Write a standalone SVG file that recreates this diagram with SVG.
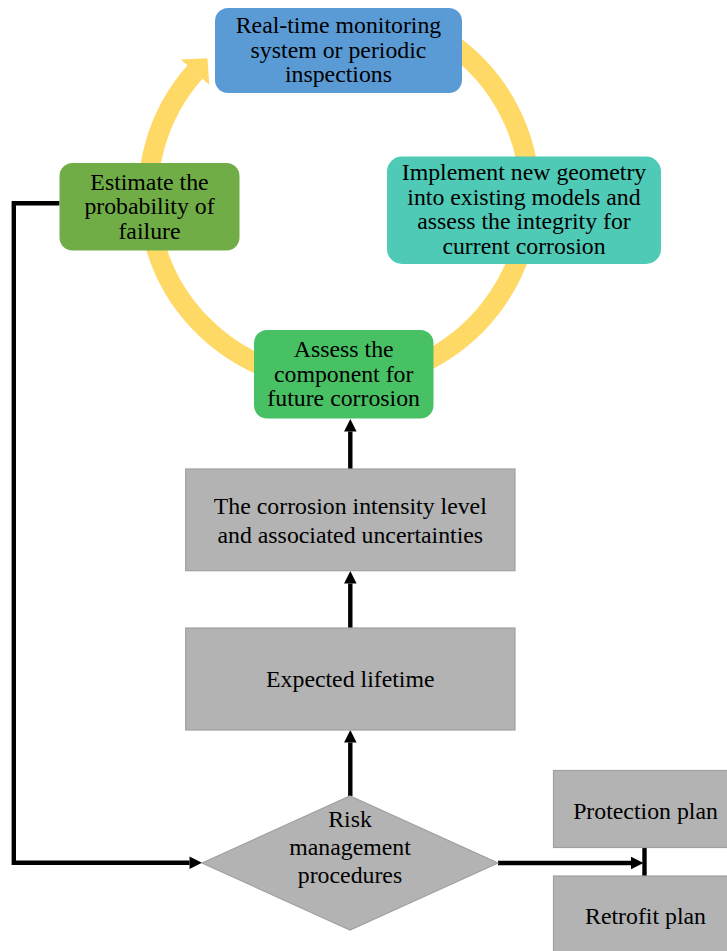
<svg xmlns="http://www.w3.org/2000/svg" width="727" height="951" viewBox="0 0 727 951">
<style>
text{font-family:"Liberation Serif","Times New Roman",serif;font-size:23.8px;fill:#000;text-anchor:middle}
.ring{fill:none;stroke:#FFD966;stroke-width:20}
.wire{fill:none;stroke:#000;stroke-width:4.4}
.gray{fill:#B3B3B3;stroke:#A0A0A0;stroke-width:1.2}
</style>
<defs>
<marker id="ah" markerUnits="userSpaceOnUse" markerWidth="12.5" markerHeight="12.5" refX="0" refY="6.25" orient="auto" overflow="visible">
<path d="M0,0 L12.5,6.25 L0,12.5 z" fill="#000"/>
</marker>
</defs>
<g id="connectors">
<path class="ring" d="M450,43 A191,187 0 0 1 420,364"/>
<path class="ring" d="M270,369 A191,187 0 0 1 195,72"/>
<polygon points="180.8,59.5 207.5,58.2 209.2,84.7" fill="#FFD966"/>
<path class="wire" d="M350.3,796 V742.5" marker-end="url(#ah)"/>
<path class="wire" d="M350.3,628 V583.5" marker-end="url(#ah)"/>
<path class="wire" d="M350.3,469 V431.5" marker-end="url(#ah)"/>
<path class="wire" d="M59.5,203.2 H13.8 V862.8 H189.5" marker-end="url(#ah)"/>
<path class="wire" d="M498,863 H631" marker-end="url(#ah)"/>
<path class="wire" d="M644.5,847.5 V876"/>
</g>
<g id="node-monitoring">
<rect x="215" y="8" width="247" height="85" rx="13" fill="#5B9BD5"/>
<text x="338.5" y="33">Real-time monitoring</text>
<text x="338.5" y="57.5">system or periodic</text>
<text x="338.5" y="82">inspections</text>
</g>
<g id="node-implement">
<rect x="387" y="156.5" width="274" height="107.5" rx="15" fill="#4FCAB6"/>
<text x="524" y="180">Implement new geometry</text>
<text x="524" y="204.7">into existing models and</text>
<text x="524" y="229.3">assess the integrity for</text>
<text x="524" y="254">current corrosion</text>
</g>
<g id="node-estimate">
<rect x="59.5" y="163" width="180" height="87.5" rx="13" fill="#70AD47"/>
<text x="149.5" y="189.5">Estimate the</text>
<text x="149.5" y="214">probability of</text>
<text x="149.5" y="238.5">failure</text>
</g>
<g id="node-assess">
<rect x="254" y="330" width="179.5" height="88.5" rx="13" fill="#48C164"/>
<text x="343.7" y="357">Assess the</text>
<text x="343.7" y="381.5">component for</text>
<text x="343.7" y="406">future corrosion</text>
</g>
<g id="node-intensity">
<rect class="gray" x="185.7" y="469" width="329.3" height="101.7"/>
<text x="350.3" y="514.3">The corrosion intensity level</text>
<text x="350.3" y="542.7">and associated uncertainties</text>
</g>
<g id="node-lifetime">
<rect class="gray" x="185.7" y="628" width="329.3" height="102"/>
<text x="350.3" y="687.3">Expected lifetime</text>
</g>
<g id="node-risk">
<polygon class="gray" points="202,863 350,796 498,863 350,930"/>
<text x="350" y="826.7">Risk</text>
<text x="350" y="855">management</text>
<text x="350" y="883.3">procedures</text>
</g>
<g id="node-protection">
<rect class="gray" x="553.5" y="770.5" width="183" height="77"/>
<text x="645.5" y="819.3">Protection plan</text>
</g>
<g id="node-retrofit">
<rect class="gray" x="553.5" y="876" width="183" height="78"/>
<text x="645.5" y="923.5">Retrofit plan</text>
</g>
</svg>
